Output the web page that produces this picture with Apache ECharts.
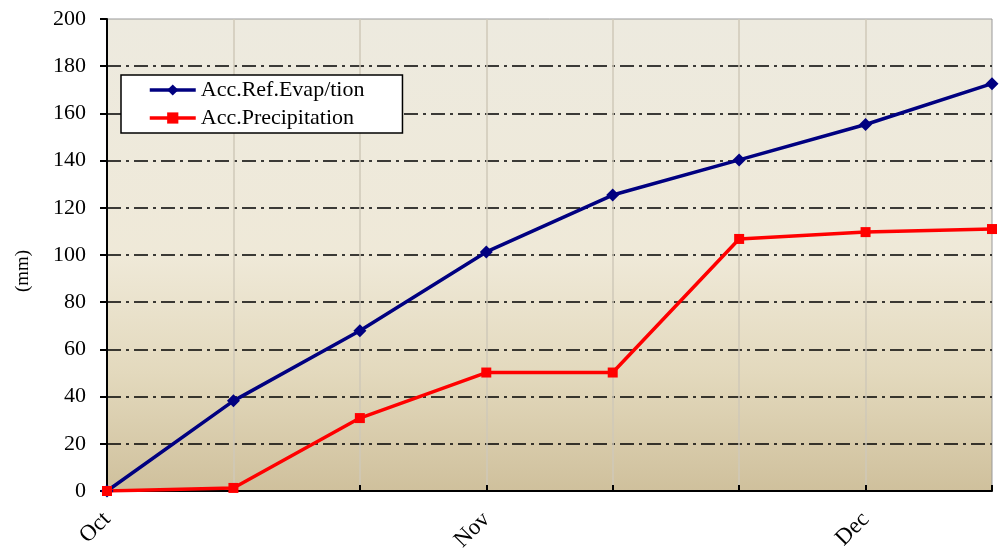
<!DOCTYPE html>
<html><head><meta charset="utf-8">
<script src="https://cdn.jsdelivr.net/npm/echarts@6/dist/echarts.min.js"></script>
<style>html,body{margin:0;padding:0;background:#fff}#c{width:1002px;height:551px}</style>
</head><body><div id="c"></div>
<script>
const categories = ['Oct', '', '', 'Nov', '', '', 'Dec', ''];
const evap = [0, 38.2, 67.9, 101.3, 125.4, 140.3, 155.3, 172.6];
const precip = [0, 1.3, 30.9, 50.2, 50.2, 106.8, 109.7, 111.0];
const yTicks = {min: 0, max: 200, interval: 20};
const FONT = 'Liberation Serif';

const chart = echarts.init(document.getElementById('c'));
chart.setOption({
  animation: false,
  backgroundColor: '#ffffff',
  textStyle: {fontFamily: FONT},
  grid: {
    left: 107, right: 10, top: 19, bottom: 60,
    outerBoundsMode: 'none', containLabel: false,
    show: true, borderColor: '#999999', borderWidth: 1,
    backgroundColor: {
      type: 'linear', x: 0, y: 0, x2: 0, y2: 1,
      colorStops: [
        {offset: 0, color: '#edeadf'},
        {offset: 0.5, color: '#efe9d8'},
        {offset: 0.75, color: '#e3d9bd'},
        {offset: 1, color: '#cfc09c'}
      ]
    }
  },
  legend: {
    orient: 'vertical', left: 121, top: 75,
    backgroundColor: '#ffffff', borderColor: '#000000', borderWidth: 1.5,
    padding: [4, 38, 4, 27], itemGap: 6, itemWidth: 46, itemHeight: 14,
    lineStyle: {width: 3.5},
    textStyle: {fontFamily: FONT, fontSize: 22, color: '#000'},
    data: ['Acc.Ref.Evap/tion', 'Acc.Precipitation']
  },
  xAxis: {
    type: 'category', data: categories, boundaryGap: false,
    axisLine: {lineStyle: {color: '#000', width: 2}},
    axisTick: {show: true, inside: true, length: 6, interval: 0, lineStyle: {color: '#000', width: 2}},
    axisLabel: {interval: 0, rotate: 45, margin: 25, fontFamily: FONT, fontSize: 23, color: '#000'},
    splitLine: {show: true, interval: 0, showMinLine: false, showMaxLine: false, lineStyle: {color: '#cfc9b8', width: 1.5}}
  },
  yAxis: {
    type: 'value', min: yTicks.min, max: yTicks.max, interval: yTicks.interval,
    name: '(mm)', nameLocation: 'middle', nameGap: 74, nameRotate: 90,
    nameTextStyle: {fontFamily: FONT, fontSize: 19, color: '#000', padding: [0, 32, 0, 0]},
    axisLine: {show: true, lineStyle: {color: '#000', width: 2}},
    axisTick: {show: true, length: 7, lineStyle: {color: '#000', width: 2}},
    axisLabel: {margin: 21, fontFamily: FONT, fontSize: 22, color: '#000'},
    splitLine: {show: true, showMinLine: false, showMaxLine: false, lineStyle: {color: '#000', width: 1.5, type: [14, 5, 3, 5]}}
  },
  series: [
    {
      name: 'Acc.Ref.Evap/tion', type: 'line', data: evap,
      symbol: 'diamond', symbolSize: 13,
      lineStyle: {color: '#000080', width: 3.5}, itemStyle: {color: '#000080'}
    },
    {
      name: 'Acc.Precipitation', type: 'line', data: precip,
      symbol: 'rect', symbolSize: 10,
      lineStyle: {color: '#ff0000', width: 3.5}, itemStyle: {color: '#ff0000'}
    }
  ]
});
</script></body></html>
